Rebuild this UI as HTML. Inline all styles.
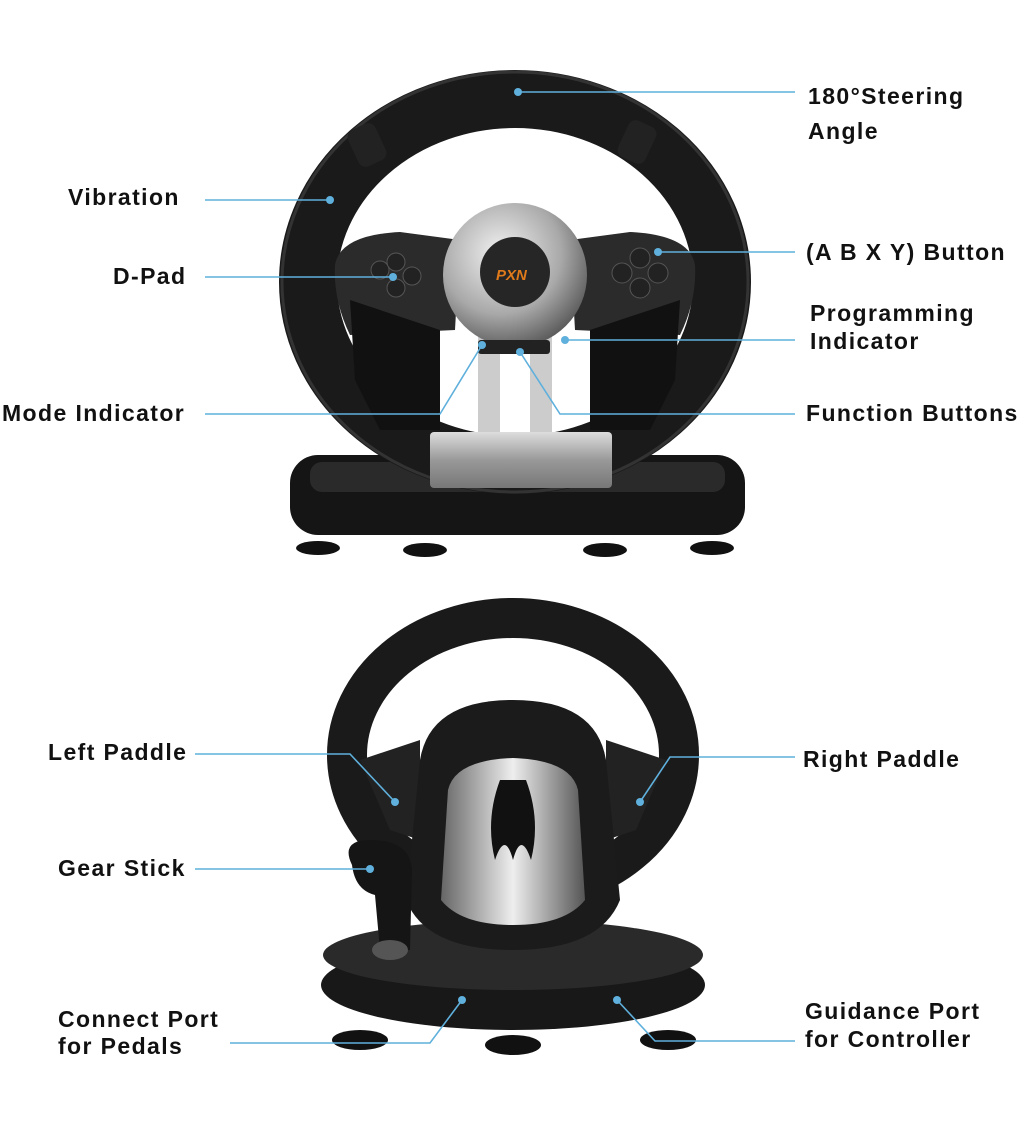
<!DOCTYPE html>
<html><head><meta charset="utf-8"><style>
html,body{margin:0;padding:0;background:#fff;}
svg{display:block;}
text{font-family:"Liberation Sans",Arial,sans-serif;font-weight:bold;font-size:23px;letter-spacing:1.4px;fill:#111;}
.l{stroke:#5fb0dc;stroke-width:1.6;fill:none;}
.d{fill:#5fb0dc;}
</style></head><body>
<svg width="1024" height="1126" viewBox="0 0 1024 1126" xmlns="http://www.w3.org/2000/svg">
<defs>
<radialGradient id="sil" cx="40%" cy="35%" r="70%"><stop offset="0" stop-color="#f2f2f2"/><stop offset="0.6" stop-color="#a9a9a9"/><stop offset="1" stop-color="#555"/></radialGradient>
<linearGradient id="bar" x1="0" x2="0" y1="0" y2="1"><stop offset="0" stop-color="#ddd"/><stop offset="0.5" stop-color="#999"/><stop offset="1" stop-color="#777"/></linearGradient>
<linearGradient id="bell" x1="0" x2="1"><stop offset="0" stop-color="#666"/><stop offset="0.5" stop-color="#eee"/><stop offset="1" stop-color="#555"/></linearGradient>
</defs>
<rect x="290" y="455" width="455" height="80" rx="28" fill="#151515"/>
<rect x="310" y="462" width="415" height="30" rx="12" fill="#2a2a2a"/>
<g fill="#111"><ellipse cx="318" cy="548" rx="22" ry="7"/><ellipse cx="425" cy="550" rx="22" ry="7"/><ellipse cx="605" cy="550" rx="22" ry="7"/><ellipse cx="712" cy="548" rx="22" ry="7"/></g>
<ellipse cx="515" cy="282" rx="207" ry="183" fill="none" stroke="#1a1a1a" stroke-width="58"/>
<ellipse cx="515" cy="282" rx="233" ry="210" fill="none" stroke="#333" stroke-width="3"/>
<path d="M335 265 Q340 235 400 232 L460 240 L455 330 L350 335 Q333 300 335 265Z" fill="#2b2b2b"/>
<path d="M695 265 Q690 235 630 232 L570 240 L575 330 L680 335 Q697 300 695 265Z" fill="#2b2b2b"/>
<path d="M350 300 L440 330 L440 430 L380 430 L355 380Z" fill="#111"/>
<path d="M680 300 L590 330 L590 430 L650 430 L675 380Z" fill="#111"/>
<rect x="478" y="330" width="22" height="110" fill="#ccc"/>
<rect x="530" y="330" width="22" height="110" fill="#ccc"/>
<rect x="430" y="432" width="182" height="56" rx="4" fill="url(#bar)"/>
<circle cx="515" cy="275" r="72" fill="url(#sil)"/>
<circle cx="515" cy="272" r="35" fill="#262626"/>
<text x="496" y="280" style="font-size:15px;letter-spacing:0;fill:#e07a1a;font-style:italic">PXN</text>
<rect x="478" y="340" width="72" height="14" rx="3" fill="#222"/>
<g fill="#222" stroke="#555"><circle cx="380" cy="270" r="9"/><circle cx="396" cy="262" r="9"/><circle cx="396" cy="288" r="9"/><circle cx="412" cy="276" r="9"/>
<circle cx="640" cy="258" r="10"/><circle cx="622" cy="273" r="10"/><circle cx="658" cy="273" r="10"/><circle cx="640" cy="288" r="10"/></g>
<rect x="352" y="125" width="30" height="40" rx="8" fill="#222" transform="rotate(-25 367 145)"/>
<rect x="622" y="122" width="30" height="40" rx="8" fill="#222" transform="rotate(25 637 142)"/>
<ellipse cx="513" cy="985" rx="192" ry="45" fill="#181818"/>
<ellipse cx="513" cy="955" rx="190" ry="35" fill="#2a2a2a"/>
<g fill="#111"><ellipse cx="360" cy="1040" rx="28" ry="10"/><ellipse cx="513" cy="1045" rx="28" ry="10"/><ellipse cx="668" cy="1040" rx="28" ry="10"/></g>
<ellipse cx="513" cy="755" rx="166" ry="137" fill="none" stroke="#1a1a1a" stroke-width="40"/>
<path d="M360 760 L420 740 L420 840 L390 830Z" fill="#222"/>
<path d="M666 760 L606 740 L606 840 L636 830Z" fill="#222"/>
<path d="M420 760 Q430 700 513 700 Q596 700 606 760 L620 900 Q600 950 513 950 Q426 950 406 900Z" fill="#1b1b1b"/>
<path d="M448 790 Q455 760 513 758 Q571 760 578 790 L585 900 Q565 925 513 925 Q461 925 441 900Z" fill="url(#bell)"/>
<path d="M500 780 Q485 820 495 860 Q505 830 513 860 Q521 830 531 860 Q541 820 526 780Z" fill="#111"/>
<path d="M352 865 Q340 840 370 840 Q410 840 412 870 L410 950 L380 950 L375 895 Q355 890 352 865Z" fill="#151515"/>
<ellipse cx="390" cy="950" rx="18" ry="10" fill="#555"/>
<path class="l" d="M518 92 H795"/><circle class="d" cx="518" cy="92" r="4"/>
<text x="808" y="104">180°Steering</text><text x="808" y="139">Angle</text>
<path class="l" d="M205 200 H330"/><circle class="d" cx="330" cy="200" r="4"/>
<text x="68" y="205">Vibration</text>
<path class="l" d="M205 277 H393"/><circle class="d" cx="393" cy="277" r="4"/>
<text x="113" y="284">D-Pad</text>
<path class="l" d="M658 252 H795"/><circle class="d" cx="658" cy="252" r="4"/>
<text x="806" y="260">(A B X Y) Button</text>
<path class="l" d="M565 340 H795"/><circle class="d" cx="565" cy="340" r="4"/>
<text x="810" y="321">Programming</text><text x="810" y="349">Indicator</text>
<path class="l" d="M205 414 H440 L482 345"/><circle class="d" cx="482" cy="345" r="4"/>
<text x="2" y="421">Mode Indicator</text>
<path class="l" d="M795 414 H560 L520 352"/><circle class="d" cx="520" cy="352" r="4"/>
<text x="806" y="421">Function Buttons</text>
<path class="l" d="M195 754 H350 L395 802"/><circle class="d" cx="395" cy="802" r="4"/>
<text x="48" y="760">Left Paddle</text>
<path class="l" d="M795 757 H670 L640 802"/><circle class="d" cx="640" cy="802" r="4"/>
<text x="803" y="767">Right Paddle</text>
<path class="l" d="M195 869 H370"/><circle class="d" cx="370" cy="869" r="4"/>
<text x="58" y="876">Gear Stick</text>
<path class="l" d="M230 1043 H430 L462 1000"/><circle class="d" cx="462" cy="1000" r="4"/>
<text x="58" y="1027">Connect Port</text><text x="58" y="1054">for Pedals</text>
<path class="l" d="M795 1041 H655 L617 1000"/><circle class="d" cx="617" cy="1000" r="4"/>
<text x="805" y="1019">Guidance Port</text><text x="805" y="1047">for Controller</text>
</svg>
</body></html>
